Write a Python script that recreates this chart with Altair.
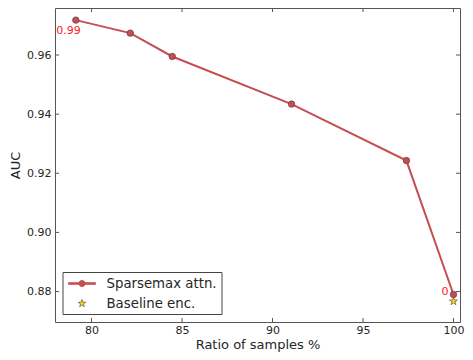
import altair as alt
import pandas as pd

# ---- data ----
ratio = [79.13, 82.14, 84.46, 91.05, 97.4, 100.0]
auc = [0.9718, 0.9674, 0.9595, 0.9434, 0.9243, 0.879]
baseline_ratio = [100.0]
baseline_auc = [0.8767]
series_names = ["Sparsemax attn.", "Baseline enc."]
note_text = ["0.99", "0"]
note_ratio = [79.13, 100.0]
note_auc = [0.9718, 0.879]
x_ticks = [80, 85, 90, 95, 100]
y_ticks = [0.88, 0.90, 0.92, 0.94, 0.96]

W, H = 405, 314
LINE_C = "#c44e52"
STAR_C = "#ffd700"
EDGE_C = "#555555"

STAR = ("M0,-1L0.2245,-0.309L0.951,-0.309L0.363,0.118L0.588,0.809L0,0.382"
        "L-0.588,0.809L-0.363,0.118L-0.951,-0.309L-0.2245,-0.309Z")
s = 0.58
STAR_SMALL = ("M0,{a}L{b},{c}L{d},{c}L{e},{f}L{g},{h}L0,{i}L{mg},{h}L{me},{f}L{md},{c}L{mb},{c}Z"
              .format(a=-1 * s, b=0.2245 * s, c=-0.309 * s, d=0.951 * s, e=0.363 * s,
                      f=0.118 * s, g=0.588 * s, h=0.809 * s, i=0.382 * s,
                      mg=-0.588 * s, me=-0.363 * s, md=-0.951 * s, mb=-0.2245 * s))
LINE_CIRCLE = ("M-1.93,-0.143H1.93V0.143H-1.93Z"
               "M0.464,0A0.464,0.464 0 1,1 -0.464,0A0.464,0.464 0 1,1 0.464,0Z")

main_df = pd.DataFrame({"x": ratio, "y": auc})
base_df = pd.DataFrame({"x": baseline_ratio, "y": baseline_auc})
note_df = pd.DataFrame({"x": note_ratio, "y": note_auc, "t": note_text})
xt_df = pd.DataFrame({"x": x_ticks})
yt_df = pd.DataFrame({"y": y_ticks})
leg_df = pd.DataFrame({"series": series_names})

xs = alt.Scale(domain=[77.98, 100.36], nice=False, zero=False)
ys = alt.Scale(domain=[0.8697, 0.9759], nice=False, zero=False)

xaxis = alt.Axis(title="Ratio of samples %", values=x_ticks, format="d", ticks=False,
                 domain=False, grid=False, labelPadding=2, titlePadding=3)
yaxis = alt.Axis(title="AUC", values=y_ticks, format=".2f", ticks=False,
                 domain=False, grid=False, labelPadding=4, titlePadding=4)

X = alt.X("x:Q", scale=xs, axis=xaxis)
Y = alt.Y("y:Q", scale=ys, axis=yaxis)

line = alt.Chart(main_df).mark_line(color=LINE_C, strokeWidth=2).encode(x=X, y=Y)
pts = alt.Chart(main_df).mark_point(filled=True, fill=LINE_C, stroke="#6b3a3a",
                                    strokeWidth=0.7, size=42, opacity=1).encode(x=X, y=Y)
star = alt.Chart(base_df).mark_point(shape=STAR, filled=True, fill=STAR_C, stroke="#444444",
                                     strokeWidth=0.6, size=71, opacity=1).encode(x=X, y=Y)

note1 = alt.Chart(note_df).transform_filter(alt.datum.t == "0.99").mark_text(
    color="#ff1a1a", fontSize=11, align="right", baseline="middle", dx=5, dy=11
).encode(x=X, y=Y, text="t:N")
note2 = alt.Chart(note_df).transform_filter(alt.datum.t == "0").mark_text(
    color="#ff1a1a", fontSize=11, align="right", baseline="middle", dx=-5, dy=-3
).encode(x=X, y=Y, text="t:N")

tick_col = EDGE_C
bt = alt.Chart(xt_df).mark_rule(color=tick_col, strokeWidth=1).encode(
    x=X, y=alt.value(H), y2=alt.value(H - 4))
tt = alt.Chart(xt_df).mark_rule(color=tick_col, strokeWidth=1).encode(
    x=X, y=alt.value(0), y2=alt.value(4))
lt = alt.Chart(yt_df).mark_rule(color=tick_col, strokeWidth=1).encode(
    y=Y, x=alt.value(0), x2=alt.value(4))
rt = alt.Chart(yt_df).mark_rule(color=tick_col, strokeWidth=1).encode(
    y=Y, x=alt.value(W - 4), x2=alt.value(W))

leg = alt.Legend(title=None, orient="none", legendX=7.5, legendY=264,
                 strokeColor="#444444", fillColor="white", padding=4,
                 rowPadding=6, symbolOffset=8, labelOffset=17,
                 labelFontSize=13.3, labelColor="#262626", labelFont="DejaVu Sans",
                 symbolSize=196, symbolStrokeWidth=0.6, symbolOpacity=1)

legend_layer = alt.Chart(leg_df).transform_filter("false").mark_point(
    filled=True, size=196, strokeWidth=0.6, opacity=1
).encode(
    shape=alt.Shape("series:N", scale=alt.Scale(domain=series_names, range=[LINE_CIRCLE, STAR_SMALL]), legend=leg),
    fill=alt.Fill("series:N", scale=alt.Scale(domain=series_names, range=[LINE_C, STAR_C]), legend=leg),
    stroke=alt.Stroke("series:N", scale=alt.Scale(domain=series_names, range=[LINE_C, "#444444"]), legend=leg),
)

chart = alt.layer(bt, tt, lt, rt, line, pts, star, note1, note2, legend_layer).properties(
    width=W, height=H,
    autosize=alt.AutoSizeParams(type="none"),
    padding={"left": 47, "top": 0, "right": 5, "bottom": 30},
).configure(
    font="DejaVu Sans",
).configure_view(
    stroke=EDGE_C, strokeWidth=1,
).configure_axis(
    labelFont="DejaVu Sans", labelFontSize=11, labelColor="#262626",
    titleFont="DejaVu Sans", titleFontSize=13, titleColor="#262626", titleFontWeight="normal",
)

chart.save("out.html", embed_options={"renderer": "svg", "actions": False})
